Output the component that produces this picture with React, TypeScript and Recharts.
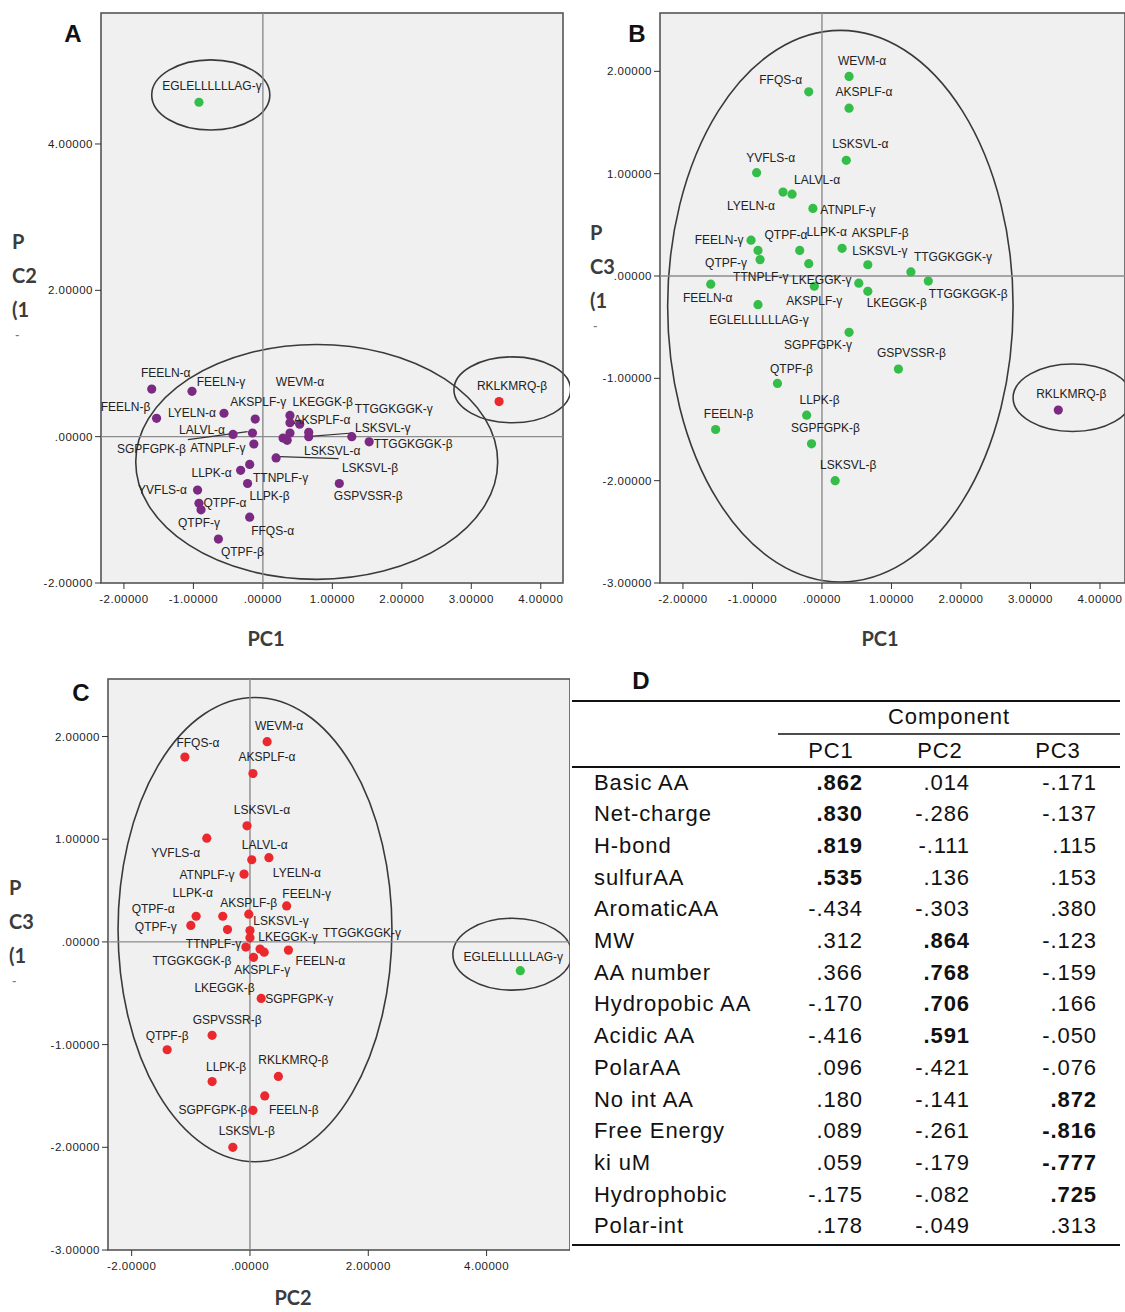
import React from "react";
import {
  ScatterChart,
  Scatter,
  XAxis,
  YAxis,
  CartesianGrid,
  ReferenceLine,
  ReferenceArea,
} from "recharts";

// peptide scores on the first three principal components
const peptides = [
  "WEVM-α", "FFQS-α", "AKSPLF-α", "LSKSVL-α", "YVFLS-α", "LYELN-α", "LALVL-α",
  "ATNPLF-γ", "FEELN-γ", "QTPF-α", "LLPK-α", "AKSPLF-β", "LSKSVL-γ", "TTGGKGGK-γ",
  "QTPF-γ", "TTNPLF-γ", "LKEGGK-γ", "FEELN-α", "AKSPLF-γ", "TTGGKGGK-β", "LKEGGK-β",
  "EGLELLLLLLAG-γ", "SGPFGPK-γ", "GSPVSSR-β", "QTPF-β", "RKLKMRQ-β", "FEELN-β",
  "LLPK-β", "SGPFGPK-β", "LSKSVL-β",
];
const pc1 = [
  0.39, -0.19, 0.39, 0.35, -0.94, -0.56, -0.43, -0.13, -1.02, -0.92, -0.32, 0.29, 0.66, 1.28,
  -0.89, -0.19, 0.53, -1.6, -0.11, 1.53, 0.66, -0.92, 0.39, 1.1, -0.64, 3.4, -1.53, -0.22, -0.15, 0.19,
];
const pc2 = [
  0.29, -1.1, 0.05, -0.05, -0.73, 0.32, 0.03, -0.1, 0.62, -0.91, -0.46, -0.02, 0.0, 0.0,
  -1.0, -0.38, 0.17, 0.65, 0.24, -0.07, 0.06, 4.57, 0.19, -0.64, -1.4, 0.48, 0.25, -0.64, 0.05, -0.29,
];
const pc3 = [
  1.95, 1.8, 1.64, 1.13, 1.01, 0.82, 0.8, 0.66, 0.35, 0.25, 0.25, 0.27, 0.11, 0.04,
  0.16, 0.12, -0.07, -0.08, -0.1, -0.05, -0.15, -0.28, -0.55, -0.91, -1.05, -1.31, -1.5, -1.36, -1.64, -2.0,
];

// loadings table (panel D)
const variables = [
  "Basic AA", "Net-charge", "H-bond", "sulfurAA", "AromaticAA", "MW", "AA number",
  "Hydropobic AA", "Acidic AA", "PolarAA", "No int AA", "Free Energy", "ki uM",
  "Hydrophobic", "Polar-int",
];
const loadPC1 = [0.862, 0.83, 0.819, 0.535, -0.434, 0.312, 0.366, -0.17, -0.416, 0.096, 0.18, 0.089, 0.059, -0.175, 0.178];
const loadPC2 = [0.014, -0.286, -0.111, 0.136, -0.303, 0.864, 0.768, 0.706, 0.591, -0.421, -0.141, -0.261, -0.179, -0.082, -0.049];
const loadPC3 = [-0.171, -0.137, 0.115, 0.153, 0.38, -0.123, -0.159, 0.166, -0.05, -0.076, 0.872, -0.816, -0.777, 0.725, 0.313];
const boldComponent = [1, 1, 1, 1, 0, 2, 2, 2, 2, 0, 3, 3, 3, 3, 0];

const rows = peptides.map((name, i) => ({ name, pc1: pc1[i], pc2: pc2[i], pc3: pc3[i] }));

const FONT = "Arial, 'Liberation Sans', sans-serif";
const PURPLE = "#7a2a82";
const GREEN = "#34bd48";
const RED = "#ea282e";

const fmtTick = (v: number) => (v === 0 ? ".00000" : v.toFixed(5));
const fmtLoad = (v: number) => v.toFixed(3).replace(/^(-?)0\./, "$1.");

type Off = Record<string, [number, number]>;

const offA: Off = {
  "FEELN-α": [14, -16], "FEELN-γ": [29, -9], "FEELN-β": [-31, -11], "LYELN-α": [-32, 0],
  "AKSPLF-γ": [3, -17], "LKEGGK-β": [14, -30], "WEVM-α": [10, -33], "TTGGKGGK-γ": [42, -28],
  "AKSPLF-α": [32, -13], "LSKSVL-γ": [74, -9], "LALVL-α": [-31, -4], "SGPFGPK-β": [-101, 16],
  "ATNPLF-γ": [-36, 4], "LSKSVL-α": [45, 11], "TTGGKGGK-β": [44, 2], "LSKSVL-β": [94, 10],
  "LLPK-α": [-29, 3], "TTNPLF-γ": [31, 14], "YVFLS-α": [-35, 0], "QTPF-α": [26, 0],
  "LLPK-β": [22, 13], "QTPF-γ": [-2, 13], "FFQS-α": [23, 14], "QTPF-β": [24, 13],
  "GSPVSSR-β": [29, 13], "RKLKMRQ-β": [13, -16], "EGLELLLLLLAG-γ": [13, -16],
};
const offB: Off = {
  "WEVM-α": [13, -15], "FFQS-α": [-28, -12], "AKSPLF-α": [15, -16], "LSKSVL-α": [14, -16],
  "YVFLS-α": [14, -15], "LALVL-α": [25, -14], "LYELN-α": [-32, 14], "ATNPLF-γ": [35, 2],
  "FEELN-γ": [-32, 0], "QTPF-α": [28, -15], "LLPK-α": [27, -18], "AKSPLF-β": [38, -15],
  "LSKSVL-γ": [12, -14], "TTGGKGGK-γ": [42, -15], "QTPF-γ": [-34, 3], "TTNPLF-γ": [-48, 13],
  "LKEGGK-γ": [-37, -3], "FEELN-α": [-3, 14], "AKSPLF-γ": [0, 15], "LKEGGK-β": [29, 12],
  "TTGGKGGK-β": [40, 13], "EGLELLLLLLAG-γ": [1, 15], "SGPFGPK-γ": [-31, 13],
  "GSPVSSR-β": [13, -16], "QTPF-β": [14, -14], "LLPK-β": [13, -15], "FEELN-β": [13, -15],
  "SGPFGPK-β": [14, -16], "LSKSVL-β": [13, -16], "RKLKMRQ-β": [13, -16],
};
const offC: Off = {
  "WEVM-α": [12, -16], "FFQS-α": [13, -14], "AKSPLF-α": [14, -16], "LSKSVL-α": [15, -16],
  "YVFLS-α": [-31, 15], "LALVL-α": [13, -15], "LYELN-α": [28, 15], "ATNPLF-γ": [-37, 1],
  "LLPK-α": [-30, -23], "AKSPLF-β": [0, -11], "FEELN-γ": [20, -12], "QTPF-α": [-43, -7],
  "QTPF-γ": [-35, 2], "LSKSVL-γ": [31, -10], "LKEGGK-γ": [28, -12], "TTGGKGGK-γ": [112, -5],
  "TTNPLF-γ": [-14, 14], "TTGGKGGK-β": [-54, 14], "AKSPLF-γ": [-2, 18], "FEELN-α": [32, 11],
  "LKEGGK-β": [-29, 31], "SGPFGPK-γ": [38, 1], "GSPVSSR-β": [15, -15], "QTPF-β": [0, -14],
  "LLPK-β": [14, -15], "RKLKMRQ-β": [15, -16], "FEELN-β": [29, 14], "SGPFGPK-β": [-40, 0],
  "LSKSVL-β": [14, -16], "EGLELLLLLLAG-γ": [-7, -14],
};

type Ring = { x1: number; x2: number; y1: number; y2: number };
type Panel = {
  xKey: "pc1" | "pc2";
  yKey: "pc2" | "pc3";
  xDomain: [number, number];
  yDomain: [number, number];
  xTicks: number[];
  yTicks: number[];
  yAxisWidth: number;
  xAxisHeight: number;
  width: number;
  height: number;
  right: number;
  base: string;
  special: Record<string, string>;
  offsets: Off;
  rings: Ring[];
  leaders?: { x: number; y: number }[][];
};

const panelA: Panel = {
  xKey: "pc1", yKey: "pc2",
  xDomain: [-2.33, 4.32], yDomain: [-2, 5.79],
  xTicks: [-2, -1, 0, 1, 2, 3, 4], yTicks: [-2, 0, 2, 4],
  yAxisWidth: 101, xAxisHeight: 77, width: 570, height: 660, right: 7,
  base: PURPLE, special: { "RKLKMRQ-β": RED, "EGLELLLLLLAG-γ": GREEN },
  offsets: offA,
  rings: [
    { x1: -1.83, x2: 3.38, y1: -1.95, y2: 1.26 },
    { x1: 2.75, x2: 4.43, y1: 0.19, y2: 1.09 },
    { x1: -1.6, x2: 0.1, y1: 4.19, y2: 5.15 },
  ],
  leaders: [
    [{ x: -1.08, y: -0.04 }, { x: -0.22, y: 0.07 }],
    [{ x: 0.63, y: 0.0 }, { x: 1.29, y: 0.05 }],
    [{ x: 0.14, y: -0.27 }, { x: 1.09, y: -0.3 }],
  ],
};
const panelB: Panel = {
  xKey: "pc1", yKey: "pc3",
  xDomain: [-2.33, 4.36], yDomain: [-3, 2.57],
  xTicks: [-2, -1, 0, 1, 2, 3, 4], yTicks: [-3, -2, -1, 0, 1, 2],
  yAxisWidth: 100, xAxisHeight: 77, width: 565, height: 660, right: 0,
  base: GREEN, special: { "RKLKMRQ-β": PURPLE },
  offsets: offB,
  rings: [
    { x1: -2.22, x2: 2.75, y1: -2.99, y2: 2.4 },
    { x1: 2.75, x2: 4.46, y1: -1.52, y2: -0.86 },
  ],
};
const panelC: Panel = {
  xKey: "pc2", yKey: "pc3",
  xDomain: [-2.4, 5.41], yDomain: [-3, 2.56],
  xTicks: [-2, 0, 2, 4], yTicks: [-3, -2, -1, 0, 1, 2],
  yAxisWidth: 108, xAxisHeight: 62, width: 570, height: 646, right: 0,
  base: RED, special: { "EGLELLLLLLAG-γ": GREEN },
  offsets: offC,
  rings: [
    { x1: -2.23, x2: 2.4, y1: -2.14, y2: 2.38 },
    { x1: 3.43, x2: 5.44, y1: -0.47, y2: 0.23 },
  ],
};

const tickStyle = { fontSize: 11.5, fill: "#222", fontFamily: FONT, letterSpacing: 0.5 };

function PcaScatter({ p }: { p: Panel }) {
  const ellipse = (r: any) => (
    <ellipse
      cx={r.x + r.width / 2}
      cy={r.y + r.height / 2}
      rx={Math.abs(r.width) / 2}
      ry={Math.abs(r.height) / 2}
      fill="none"
      stroke="#3a3a3a"
      strokeWidth={1.6}
    />
  );
  const frame = (r: any) => (
    <rect x={r.x} y={r.y} width={r.width} height={r.height} fill="none" stroke="#555" strokeWidth={1.6} />
  );
  const dot = (props: any) => (
    <circle cx={props.cx} cy={props.cy} r={4.6} fill={p.special[props.payload.name] || p.base} />
  );
  const label = (props: any) => {
    const o = p.offsets[props.payload.name];
    if (!o) return <g />;
    return (
      <text
        x={props.cx + o[0]}
        y={props.cy + o[1]}
        textAnchor="middle"
        dominantBaseline="central"
        fontSize={12}
        fill="#222"
        fontFamily={FONT}
      >
        {props.payload.name}
      </text>
    );
  };

  return (
    <ScatterChart
      width={p.width}
      height={p.height}
      margin={{ top: 13, right: p.right, bottom: 0, left: 0 }}
    >
      <CartesianGrid horizontal={false} vertical={false} fill="#f0f0f0" />
      <XAxis
        type="number"
        dataKey={p.xKey}
        domain={p.xDomain}
        ticks={p.xTicks}
        allowDataOverflow
        tickFormatter={fmtTick}
        height={p.xAxisHeight}
        tickSize={6}
        tickMargin={6}
        tick={tickStyle}
        tickLine={{ stroke: "#333" }}
        axisLine={false}
      />
      <YAxis
        type="number"
        dataKey={p.yKey}
        domain={p.yDomain}
        ticks={p.yTicks}
        allowDataOverflow
        tickFormatter={fmtTick}
        width={p.yAxisWidth}
        tickSize={6}
        tick={tickStyle}
        tickLine={{ stroke: "#333" }}
        axisLine={false}
      />
      <ReferenceLine x={0} stroke="#8c8c8c" strokeWidth={1.4} />
      <ReferenceLine y={0} stroke="#8c8c8c" strokeWidth={1.4} />
      {(p.leaders || []).map((seg, i) => (
        <ReferenceLine key={`ld-${i}`} segment={seg} stroke="#333" strokeWidth={1.2} ifOverflow="visible" />
      ))}
      {p.rings.map((r, i) => (
        <ReferenceArea key={`ring-${i}`} {...r} ifOverflow="visible" shape={ellipse} />
      ))}
      <ReferenceArea
        x1={p.xDomain[0]}
        x2={p.xDomain[1]}
        y1={p.yDomain[0]}
        y2={p.yDomain[1]}
        ifOverflow="visible"
        shape={frame}
      />
      <Scatter data={rows} shape={dot} isAnimationActive={false} />
      <Scatter data={rows} shape={label} isAnimationActive={false} />
    </ScatterChart>
  );
}

function LoadingsTable() {
  const rowY = (i: number) => 782 + i * 31.7;
  const colRight = [863, 970, 1097];
  const txt = { fontFamily: FONT, fontSize: 22, fill: "#111", letterSpacing: 0.9 };
  return (
    <g>
      <line x1={572} x2={1120} y1={701} y2={701} stroke="#111" strokeWidth={2} />
      <text x={949} y={716} textAnchor="middle" dominantBaseline="central" {...txt}>Component</text>
      <line x1={778} x2={1120} y1={734} y2={734} stroke="#111" strokeWidth={1.6} />
      {["PC1", "PC2", "PC3"].map((h, i) => (
        <text key={h} x={[831, 940, 1058][i]} y={750} textAnchor="middle" dominantBaseline="central" {...txt}>
          {h}
        </text>
      ))}
      <line x1={572} x2={1120} y1={767} y2={767} stroke="#111" strokeWidth={2} />
      {variables.map((v, i) => (
        <g key={v}>
          <text x={594} y={rowY(i)} dominantBaseline="central" {...txt}>{v}</text>
          {[loadPC1[i], loadPC2[i], loadPC3[i]].map((val, j) => (
            <text
              key={j}
              x={colRight[j]}
              y={rowY(i)}
              textAnchor="end"
              dominantBaseline="central"
              {...txt}
              fontWeight={boldComponent[i] === j + 1 ? "bold" : "normal"}
            >
              {fmtLoad(val)}
            </text>
          ))}
        </g>
      ))}
      <line x1={572} x2={1120} y1={1245} y2={1245} stroke="#111" strokeWidth={2} />
    </g>
  );
}

function Overlay() {
  const letter = { fontFamily: FONT, fontSize: 24, fontWeight: 700, fill: "#111" };
  const title = { fontFamily: "Lato, 'Open Sans', sans-serif", fontSize: 20, fontWeight: 700, fill: "#3c3c3c" };
  const yTitle = (x: number, y: number, second: string) => (
    <g>
      <text x={x} y={y} dominantBaseline="central" {...title}>P</text>
      <text x={x} y={y + 34} dominantBaseline="central" {...title}>{second}</text>
      <text x={x} y={y + 68} dominantBaseline="central" {...title}>(1</text>
      <text x={x + 3} y={y + 93} dominantBaseline="central" {...title} fontSize={12} fill="#777">-</text>
    </g>
  );
  return (
    <svg width={1125} height={1312} style={{ position: "absolute", left: 0, top: 0, pointerEvents: "none" }}>
      <text x={73} y={33} textAnchor="middle" dominantBaseline="central" {...letter}>A</text>
      <text x={637} y={33} textAnchor="middle" dominantBaseline="central" {...letter}>B</text>
      <text x={81} y={692} textAnchor="middle" dominantBaseline="central" {...letter}>C</text>
      <text x={641} y={680} textAnchor="middle" dominantBaseline="central" {...letter}>D</text>
      <text x={266} y={638} textAnchor="middle" dominantBaseline="central" {...title}>PC1</text>
      <text x={880} y={638} textAnchor="middle" dominantBaseline="central" {...title}>PC1</text>
      <text x={293} y={1297} textAnchor="middle" dominantBaseline="central" {...title}>PC2</text>
      {yTitle(12, 241, "C2")}
      {yTitle(590, 232, "C3")}
      {yTitle(9, 887, "C3")}
      <LoadingsTable />
    </svg>
  );
}

export default function App() {
  return (
    <div style={{ position: "absolute", left: 0, top: 0, width: 1125, height: 1312, background: "#fff", overflow: "hidden" }}>
      <div style={{ position: "absolute", left: 0, top: 0 }}>
        <PcaScatter p={panelA} />
      </div>
      <div style={{ position: "absolute", left: 560, top: 0 }}>
        <PcaScatter p={panelB} />
      </div>
      <div style={{ position: "absolute", left: 0, top: 666 }}>
        <PcaScatter p={panelC} />
      </div>
      <Overlay />
    </div>
  );
}
